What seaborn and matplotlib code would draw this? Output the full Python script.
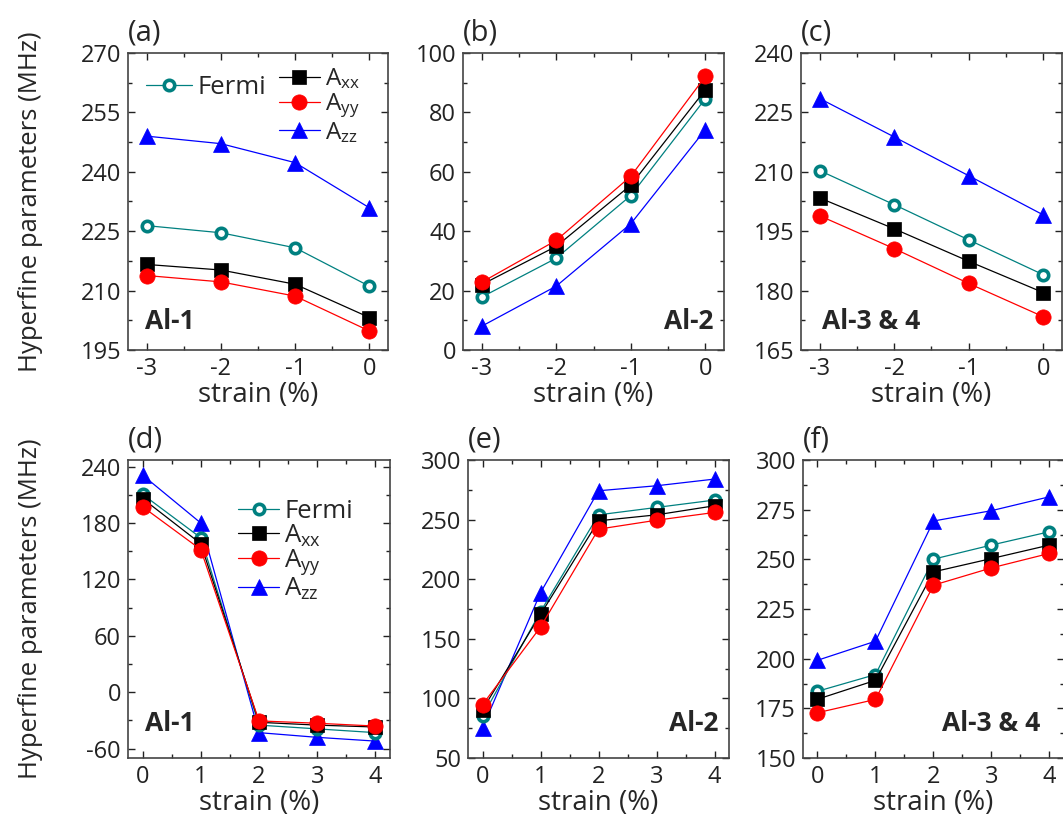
import numpy as np
import pandas as pd
import matplotlib.pyplot as plt
import seaborn as sns
from matplotlib.ticker import MultipleLocator

sns.set_style("ticks")
plt.rcParams["font.family"] = ["Open Sans", "DejaVu Sans"]
plt.rcParams["mathtext.default"] = "regular"
plt.rcParams["axes.unicode_minus"] = False

# strain values
strain_neg = [-3, -2, -1, 0]
strain_pos = [0, 1, 2, 3, 4]

# (a) Al-1, compressive
a_fermi = [226.4, 224.6, 220.8, 211.1]
a_axx = [216.6, 215.2, 211.6, 203.2]
a_ayy = [213.8, 212.2, 208.6, 199.8]
a_azz = [249.0, 247.1, 242.3, 230.9]

# (b) Al-2, compressive
b_fermi = [17.8, 30.9, 52.0, 84.6]
b_axx = [22.0, 34.9, 55.5, 87.6]
b_ayy = [22.8, 36.9, 58.5, 92.1]
b_azz = [8.0, 21.5, 42.5, 74.2]

# (c) Al-3 & 4, compressive
c_fermi = [210.3, 201.7, 192.8, 184.0]
c_axx = [203.4, 195.6, 187.4, 179.5]
c_ayy = [198.9, 190.6, 181.8, 173.4]
c_azz = [228.5, 218.8, 209.0, 199.1]

# (d) Al-1, tensile
d_fermi = [210.5, 164.3, -35.0, -39.0, -43.0]
d_axx = [206.0, 158.0, -32.0, -35.0, -37.0]
d_ayy = [197.3, 151.8, -30.5, -33.0, -36.0]
d_azz = [231.0, 180.0, -43.0, -48.0, -52.0]

# (e) Al-2, tensile
e_fermi = [85.0, 172.8, 254.0, 260.2, 266.4]
e_axx = [90.6, 170.5, 249.0, 254.0, 261.6]
e_ayy = [94.8, 159.9, 242.0, 249.5, 256.0]
e_azz = [75.2, 188.7, 274.2, 278.4, 284.0]

# (f) Al-3 & 4, tensile
f_fermi = [183.6, 192.0, 250.1, 257.2, 263.9]
f_axx = [179.6, 189.1, 243.7, 250.4, 257.2]
f_ayy = [172.8, 179.5, 237.0, 245.7, 253.0]
f_azz = [199.2, 208.8, 269.3, 274.5, 281.5]

labels = ["Fermi", "A$_{xx}$", "A$_{yy}$", "A$_{zz}$"]

fig = plt.figure(figsize=(10.63, 8.21), dpi=100)

boxes = {
    "a": [0.1204, 0.5737, 0.2446, 0.3618],
    "b": [0.4356, 0.5737, 0.2455, 0.3618],
    "c": [0.7535, 0.5737, 0.2455, 0.3618],
    "d": [0.1204, 0.0767, 0.2465, 0.3630],
    "e": [0.4403, 0.0767, 0.2455, 0.3630],
    "f": [0.7554, 0.0767, 0.2455, 0.3630],
}

panels = {
    "a": (strain_neg, [a_fermi, a_axx, a_ayy, a_azz], (195, 270), 15, "Al-1"),
    "b": (strain_neg, [b_fermi, b_axx, b_ayy, b_azz], (0, 100), 20, "Al-2"),
    "c": (strain_neg, [c_fermi, c_axx, c_ayy, c_azz], (165, 240), 15, "Al-3 & 4"),
    "d": (strain_pos, [d_fermi, d_axx, d_ayy, d_azz], (-70, 247), 60, "Al-1"),
    "e": (strain_pos, [e_fermi, e_axx, e_ayy, e_azz], (50, 300), 50, "Al-2"),
    "f": (strain_pos, [f_fermi, f_axx, f_ayy, f_azz], (150, 300), 25, "Al-3 & 4"),
}

styles = [
    dict(color="#008080", marker="o", markersize=7.5, markerfacecolor="white",
         markeredgecolor="#008080", markeredgewidth=2.6),
    dict(color="black", marker="s", markersize=10, markerfacecolor="black",
         markeredgecolor="black", markeredgewidth=0.5),
    dict(color="#ff0000", marker="o", markersize=11, markerfacecolor="#ff0000",
         markeredgecolor="#ff0000", markeredgewidth=0.5),
    dict(color="#0000ff", marker="^", markersize=12, markerfacecolor="#0000ff",
         markeredgecolor="#0000ff", markeredgewidth=0.5),
]
draw_order = [3, 0, 1, 2]

text_pos = {
    "a": (0.065, 0.05, "left"),
    "b": (0.96, 0.05, "right"),
    "c": (0.08, 0.05, "left"),
    "d": (0.065, 0.07, "left"),
    "e": (0.96, 0.07, "right"),
    "f": (0.91, 0.07, "right"),
}

axes = {}
for key, (xs, series, ylim, ystep, name) in panels.items():
    ax = fig.add_axes(boxes[key])
    axes[key] = ax
    for i in draw_order:
        df = pd.DataFrame({"strain": xs, "value": series[i]})
        sns.lineplot(data=df, x="strain", y="value", ax=ax, legend=False,
                     linewidth=0.9, label=labels[i], **styles[i])
    ax.set_xlim(xs[0] - 0.25, xs[-1] + 0.25)
    ax.set_ylim(*ylim)
    ax.xaxis.set_major_locator(MultipleLocator(1))
    ax.xaxis.set_minor_locator(MultipleLocator(0.5))
    ax.yaxis.set_major_locator(MultipleLocator(ystep))
    ax.yaxis.set_minor_locator(MultipleLocator(ystep / 2))
    ax.tick_params(which="both", direction="in", top=True, right=True,
                   labelsize=17, colors="#222222", pad=5)
    ax.tick_params(which="major", length=5, width=1)
    ax.tick_params(which="minor", length=3, width=1)
    for sp in ax.spines.values():
        sp.set_color("#444444")
        sp.set_linewidth(1.2)
    ax.set_xlabel("strain (%)", fontsize=20)
    ax.xaxis.set_label_coords(0.5, -0.105)
    ax.set_ylabel("")
    ax.text(0.0, 1.02, f"({key})", transform=ax.transAxes, fontsize=21,
            ha="left", va="bottom")
    tx, ty, ha = text_pos[key]
    ax.text(tx, ty, name, transform=ax.transAxes, fontsize=19,
            fontweight="bold", ha=ha, va="bottom")

axes["a"].set_ylabel("Hyperfine parameters (MHz)", fontsize=18.5)
axes["a"].yaxis.set_label_coords(-0.327, 0.5)
axes["d"].set_ylabel("Hyperfine parameters (MHz)", fontsize=18.5)
axes["d"].yaxis.set_label_coords(-0.324, 0.5)

leg_kw = dict(frameon=False, fontsize=18.5, handletextpad=0.2,
              borderpad=0.0, borderaxespad=0.0, loc="upper left")

# legends
h, l = axes["a"].get_legend_handles_labels()
hd = dict(zip(l, h))
leg1 = axes["a"].legend([hd["Fermi"]], ["Fermi"], bbox_to_anchor=(0.07, 0.925),
                        handlelength=1.8, **leg_kw)
axes["a"].add_artist(leg1)
leg_kw["fontsize"] = 17.5
axes["a"].legend([hd[k] for k in labels[1:]], labels[1:],
                 bbox_to_anchor=(0.58, 0.955), handlelength=1.7,
                 labelspacing=0.0, **leg_kw)

h, l = axes["d"].get_legend_handles_labels()
hd = dict(zip(l, h))
leg_kw["fontsize"] = 18.5
axes["d"].legend([hd[k] for k in labels], labels, bbox_to_anchor=(0.42, 0.87),
                 handlelength=1.6, labelspacing=-0.05, **leg_kw)

fig.savefig("out.png", dpi=100)
